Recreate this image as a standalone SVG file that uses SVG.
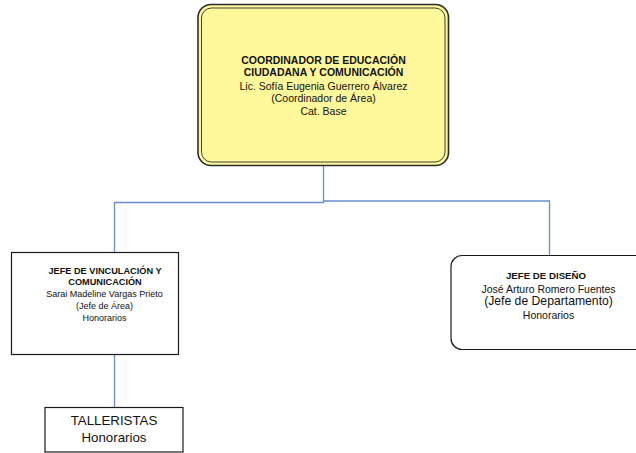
<svg xmlns="http://www.w3.org/2000/svg" width="636" height="453" viewBox="0 0 636 453">
  <style>
    text { font-family: "Liberation Sans", Arial, sans-serif; fill: #111; text-anchor: middle; }
    .b { font-weight: bold; }
    .box { fill: #ffffff; stroke: #1a1a1a; stroke-width: 1.2; }
    .link { fill: none; stroke: #6690d2; stroke-width: 1.3; }
  </style>

  <rect width="636" height="453" fill="#ffffff"/>

  <!-- connectors -->
  <g id="connectors">
    <polyline class="link" points="323.5,165.5 323.5,202.5 114.5,202.5 114.5,252.5"/>
    <polyline class="link" points="323.5,201 549.5,201 549.5,255.5"/>
    <line class="link" x1="114.5" y1="355" x2="114.5" y2="407"/>
  </g>

  <!-- coordinator -->
  <g id="coordinador">
    <rect x="198" y="4.5" width="250.5" height="161" rx="13" fill="#fff99c" stroke="#2b2b2b" stroke-width="1.6"/>
    <rect x="201.5" y="8" width="243.5" height="154" rx="10" fill="none" stroke="#2b2b2b" stroke-width="0.9"/>
    <g font-size="10.5">
      <text class="b" x="323.5" y="64">COORDINADOR DE EDUCACIÓN</text>
      <text class="b" x="323.5" y="76">CIUDADANA Y COMUNICACIÓN</text>
      <text x="323.5" y="89.5">Lic. Sofía Eugenia Guerrero Álvarez</text>
      <text x="323.5" y="102">(Coordinador de Área)</text>
      <text x="323.5" y="115">Cat. Base</text>
    </g>
  </g>

  <!-- head of outreach and communication -->
  <g id="jefe-vinculacion">
    <rect class="box" x="11.5" y="252.5" width="167" height="102"/>
    <g font-size="9.2">
      <text class="b" x="105" y="273.5">JEFE DE VINCULACIÓN Y</text>
      <text class="b" x="105" y="285">COMUNICACIÓN</text>
    </g>
    <g font-size="9">
      <text x="104.5" y="297">Sarai Madeline Vargas Prieto</text>
      <text x="104.5" y="309">(Jefe de Área)</text>
      <text x="104.5" y="320.5">Honorarios</text>
    </g>
  </g>

  <!-- head of design -->
  <g id="jefe-diseno">
    <path d="M651,255.5 H462 A11,11 0 0 0 451,266.5 V338.5 A11,11 0 0 0 462,349.5 H651" fill="#ffffff" stroke="#1a1a1a" stroke-width="1.2"/>
    <text class="b" x="546" y="279" font-size="9.7">JEFE DE DISEÑO</text>
    <text x="548.5" y="292.5" font-size="10.5">José Arturo Romero Fuentes</text>
    <text x="548.5" y="305" font-size="12.2">(Jefe de Departamento)</text>
    <text x="548.5" y="319" font-size="10.5">Honorarios</text>
  </g>

  <!-- workshop staff -->
  <g id="talleristas">
    <rect class="box" x="45" y="407.5" width="138" height="44.5"/>
    <text x="114" y="424.5" font-size="13.3">TALLERISTAS</text>
    <text x="114" y="441.5" font-size="13.3">Honorarios</text>
  </g>
</svg>
